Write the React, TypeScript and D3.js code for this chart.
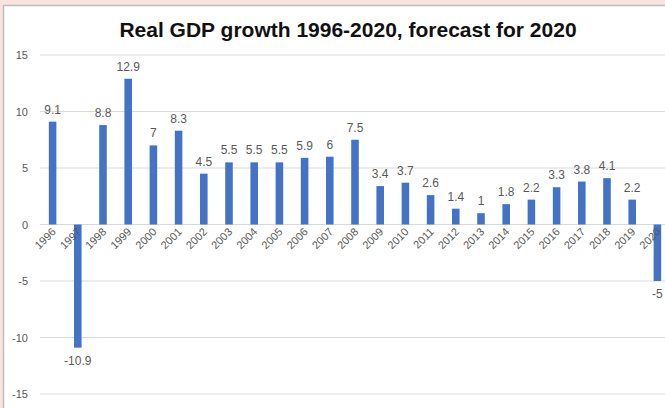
import React from "react";
import * as d3 from "d3";

const years = ["1996","1997","1998","1999","2000","2001","2002","2003","2004","2005","2006","2007","2008","2009","2010","2011","2012","2013","2014","2015","2016","2017","2018","2019","2020"];
const growth = [9.1,-10.9,8.8,12.9,7,8.3,4.5,5.5,5.5,5.5,5.9,6,7.5,3.4,3.7,2.6,1.4,1,1.8,2.2,3.3,3.8,4.1,2.2,-5];
const yTicks = [15,10,5,0,-5,-10,-15];
const title = "Real GDP growth 1996-2020, forecast for 2020";

export default function App() {
  const W = 665, H = 408;
  const x = d3.scaleBand<string>().domain(years).range([40, 670]).paddingInner(0.7).paddingOuter(0.35);
  const y = d3.scaleLinear().domain([-15, 15]).range([394, 55]);
  const font = "'Liberation Sans', Arial, sans-serif";
  return (
    <svg width={W} height={H} style={{ position: "absolute", left: 0, top: 0, background: "#fbe4dd" }}>
      <rect x={3.5} y={5.5} width={W} height={H} fill="#ffffff" stroke="#bdbdbd" strokeWidth={1.5} />
      <text x={348} y={37} textAnchor="middle" fontFamily={font} fontWeight="bold" fontSize={21} fill="#111">{title}</text>
      {yTicks.map(t => (
        <g key={t}>
          <line x1={40} x2={W} y1={y(t)} y2={y(t)} stroke="#d9d9d9" strokeWidth={1} />
          <text x={28} y={y(t) + 4} textAnchor="end" fontFamily={font} fontSize={11} fill="#595959">{t}</text>
        </g>
      ))}
      {growth.map((v, i) => {
        const cx = (x(years[i]) as number) + x.bandwidth() / 2;
        const top = y(Math.max(0, v));
        const h = Math.abs(y(v) - y(0));
        return (
          <g key={years[i]}>
            <rect x={x(years[i])} y={top} width={x.bandwidth()} height={h} fill="#4472c4" />
            <text x={cx} y={v >= 0 ? y(v) - 8 : y(v) + 17} textAnchor="middle" fontFamily={font} fontSize={12} fill="#595959">{v}</text>
            <text transform={`translate(${cx + 4},${y(0) + 8}) rotate(-45)`} textAnchor="end" fontFamily={font} fontSize={11} fill="#595959">{years[i]}</text>
          </g>
        );
      })}
    </svg>
  );
}
